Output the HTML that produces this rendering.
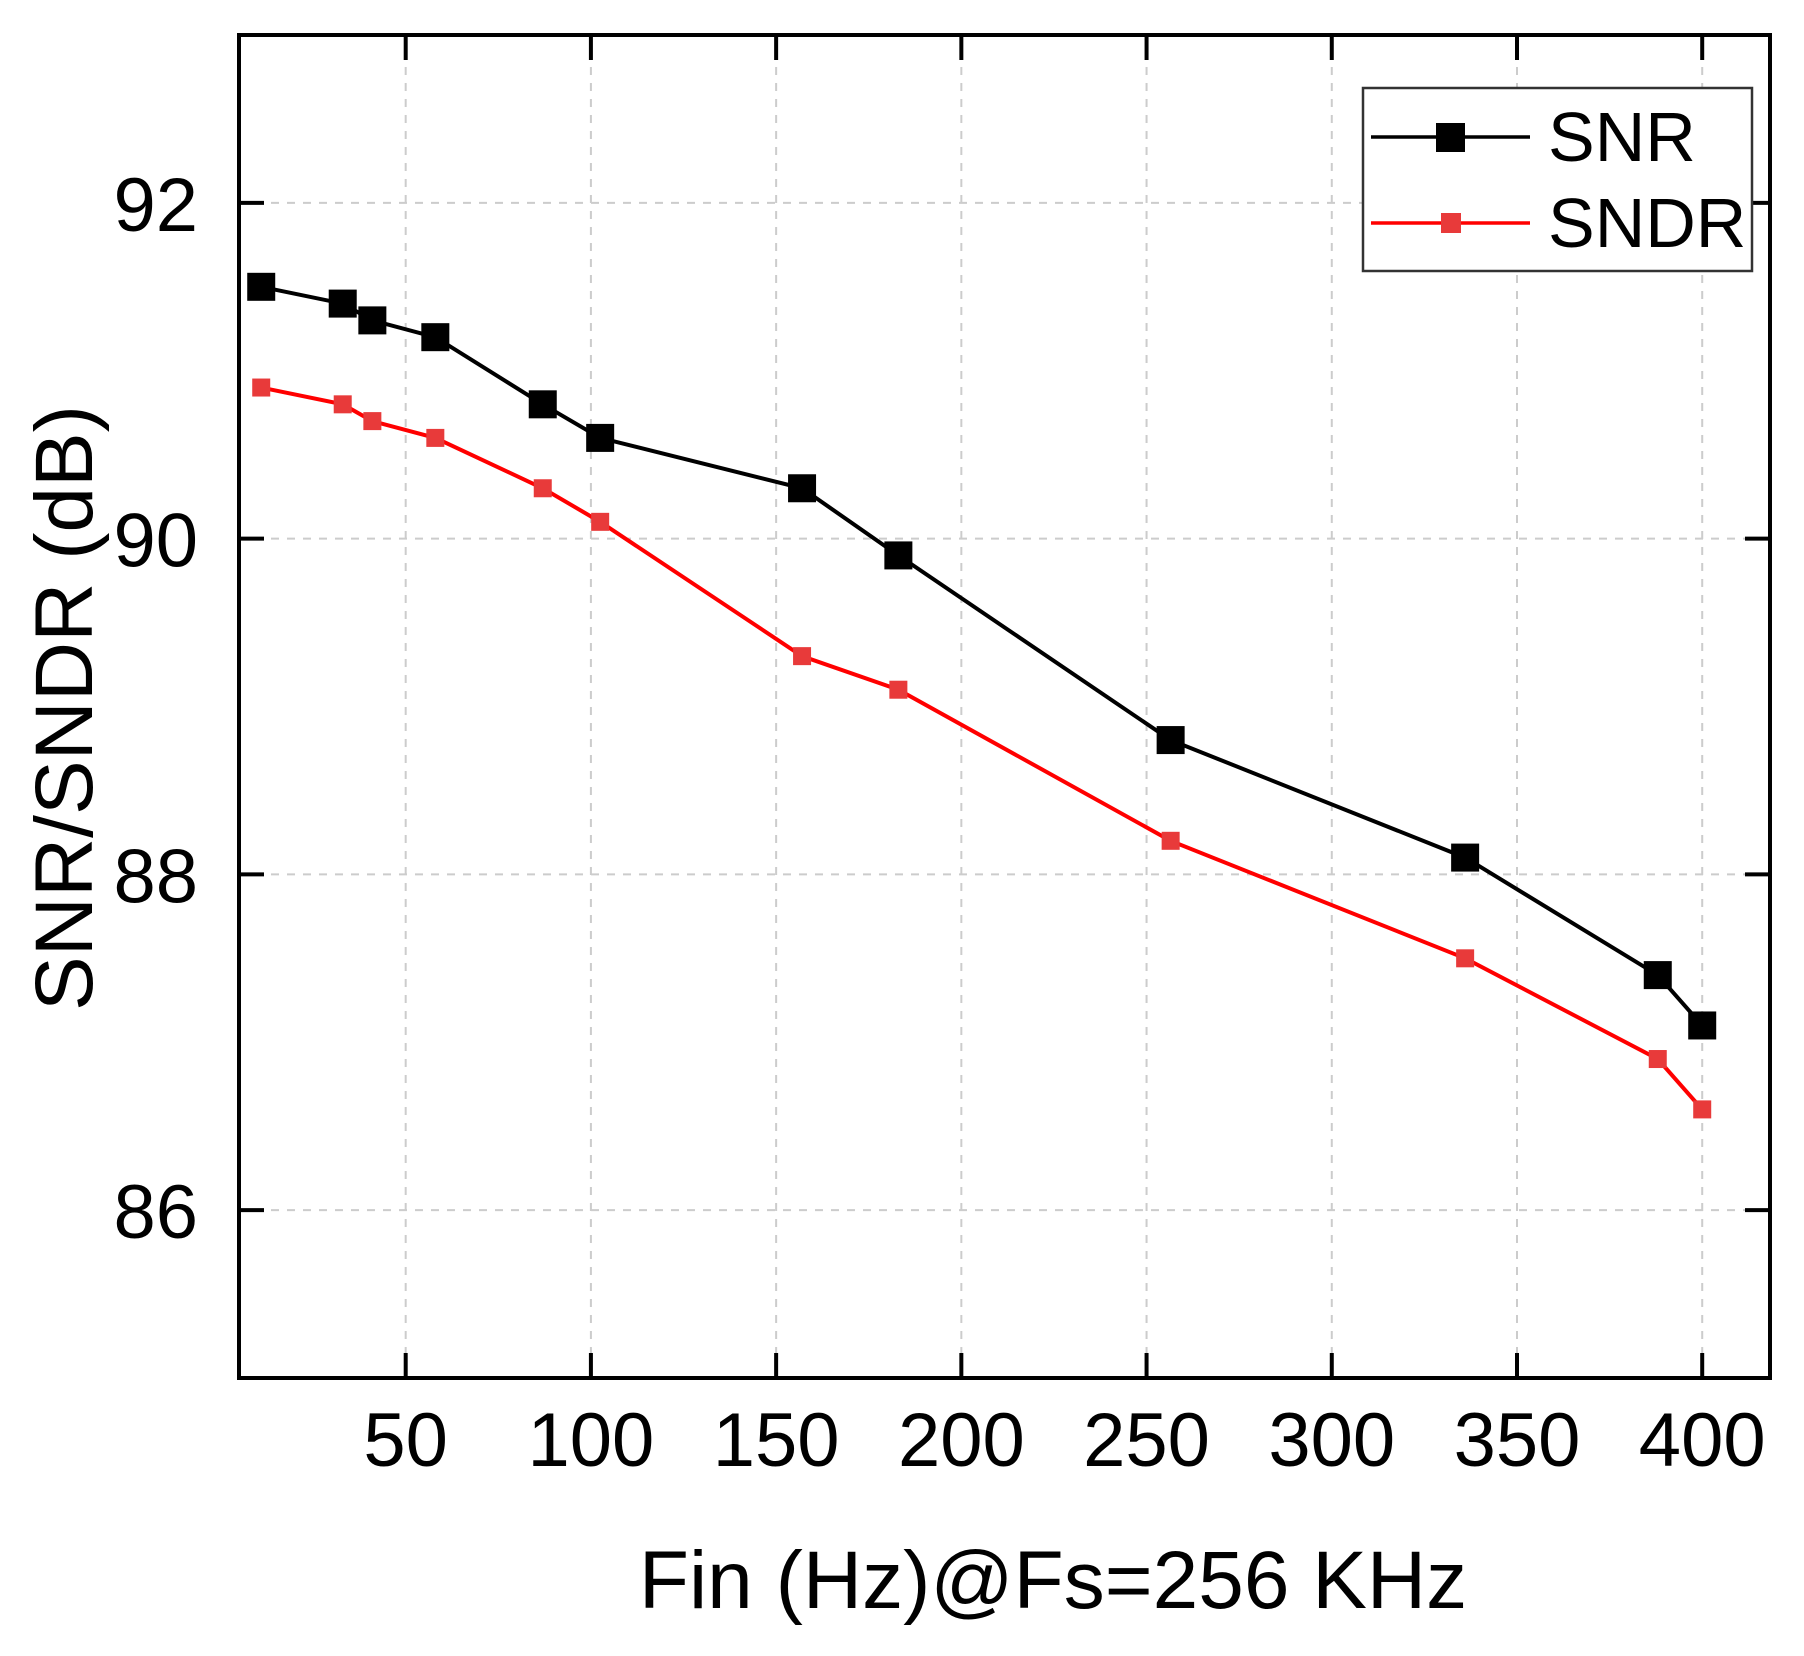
<!DOCTYPE html>
<html><head><meta charset="utf-8"><style>
html,body{margin:0;padding:0;background:#fff;}
svg{display:block;font-family:"Liberation Sans",Arial,sans-serif;}
</style></head><body>
<svg id="chart" width="1804" height="1656" viewBox="0 0 1804 1656">
<g id="grid"></g><g id="series"></g><g id="axes"></g>
<text x="1053" y="1608" font-size="82" text-anchor="middle">Fin (Hz)@Fs=256 KHz</text>
<text transform="translate(92,708) rotate(-90)" font-size="82" text-anchor="middle">SNR/SNDR (dB)</text>
<g>
<rect x="1363" y="88" width="389" height="183" fill="#fff" stroke="#333" stroke-width="2.5"/>
<g>
<line x1="1371" y1="137" x2="1530" y2="137" stroke="#000" stroke-width="3.5"/>
<rect x="1436" y="123" width="29" height="29" fill="#000"/>
<text x="1548" y="161" font-size="70">SNR</text></g>
<g>
<line x1="1371" y1="223" x2="1530" y2="223" stroke="#f00" stroke-width="3.5"/>
<rect x="1441" y="213" width="20" height="20" fill="#e83a3a"/>
<text x="1548" y="247" font-size="70">SNDR</text></g>
</g>
</svg>
<script>
const fins=[11,33,41,58,87,102.5,157,183,256.5,336,388,400];
const snr=[91.5,91.4,91.3,91.2,90.8,90.6,90.3,89.9,88.8,88.1,87.4,87.1];
const sndr=[90.9,90.8,90.7,90.6,90.3,90.1,89.3,89.1,88.2,87.5,86.9,86.6];
const xTicks=[50,100,150,200,250,300,350,400];
const yTicks=[86,88,90,92];
const L=239,R=1770,T=35,B=1378,X0=5,X1=418.3,Y0=85,Y1=93;
const NS="http://www.w3.org/2000/svg";
function sx(v){return L+(v-X0)/(X1-X0)*(R-L);}
function sy(v){return B-(v-Y0)/(Y1-Y0)*(B-T);}
function mk(t,a,p){const e=document.createElementNS(NS,t);for(const k in a)e.setAttribute(k,a[k]);p.appendChild(e);return e;}
const grid=document.getElementById('grid'),ser=document.getElementById('series'),ax=document.getElementById('axes');
xTicks.forEach(v=>{const g=mk('line',{x1:sx(v),x2:sx(v),y1:T,y2:B,stroke:'#ccc','stroke-width':2,'stroke-dasharray':'8,8'},grid);


[[B,B-25],[T,T+25]].forEach(p=>{mk('line',{x1:sx(v),x2:sx(v),y1:p[0],y2:p[1],stroke:'#000','stroke-width':4},ax);});
const t=mk('text',{x:sx(v),y:1466,'font-size':76,'text-anchor':'middle'},ax);t.textContent=v;

});
yTicks.forEach(v=>{const g=mk('line',{x1:L,x2:R,y1:sy(v),y2:sy(v),stroke:'#ccc','stroke-width':2,'stroke-dasharray':'8,8'},grid);


[[L,L+25],[R,R-25]].forEach(p=>{mk('line',{x1:p[0],x2:p[1],y1:sy(v),y2:sy(v),stroke:'#000','stroke-width':4},ax);});
const t=mk('text',{x:198,y:sy(v)+28,'font-size':76,'text-anchor':'end'},ax);t.textContent=v;

});
const frame=mk('rect',{x:L,y:T,width:R-L,height:B-T,fill:'none',stroke:'#000','stroke-width':4},ax);


function draw(vals,color,fill,size,name){
const pl=mk('polyline',{points:vals.map((v,i)=>sx(fins[i])+','+sy(v)).join(' '),fill:'none',stroke:color,'stroke-width':4},ser);


vals.forEach((v,i)=>{const r=mk('rect',{x:sx(fins[i])-size/2,y:sy(v)-size/2,width:size,height:size,fill:fill},ser);

});}
draw(sndr,'#f00','#e83a3a',18,'sndr');
draw(snr,'#000','#000',28,'snr');
</script>
</body></html>
